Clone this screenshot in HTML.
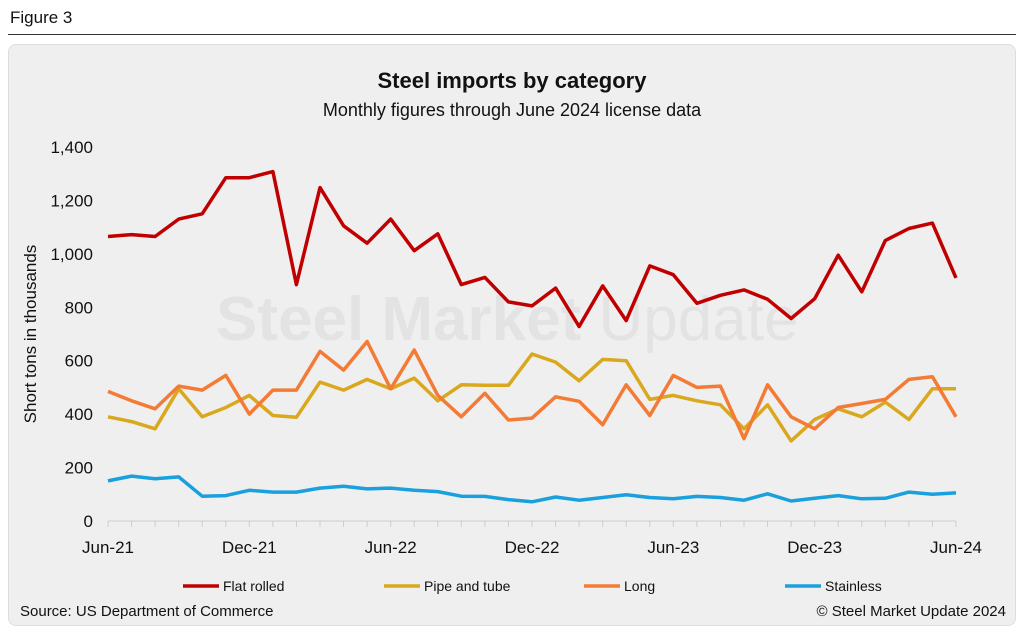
<!DOCTYPE html>
<html><head><meta charset="utf-8"><style>
body{margin:0;width:1024px;height:633px;background:#fff;font-family:"Liberation Sans",Arial,sans-serif;overflow:hidden;position:relative}
</style></head><body>
<div style="position:absolute;left:10px;top:8px;font-size:17px;color:#111">Figure 3</div>
<div style="position:absolute;left:8px;top:34px;width:1008px;height:1px;background:#333"></div>
<div style="position:absolute;left:8px;top:44px;width:1006px;height:580px;background:#efefef;border:1px solid #ddd;border-radius:8px"></div>
<svg id="c" width="1024" height="633" style="position:absolute;left:0;top:0" font-family="Liberation Sans, Arial, sans-serif">
<text x="512" y="88" text-anchor="middle" font-size="22" font-weight="bold" fill="#111">Steel imports by category</text>
<text x="512" y="116" text-anchor="middle" font-size="18" fill="#111">Monthly figures through June 2024 license data</text>
<text x="216" y="340" font-size="62" font-weight="bold" fill="#e3e3e3">Steel Market <tspan font-weight="normal">Update</tspan></text>
<text transform="translate(36,334) rotate(-90)" text-anchor="middle" font-size="17" fill="#111">Short tons in thousands</text>
<g id="g"></g>
<text x="20" y="616" font-size="15" fill="#111">Source: US Department of Commerce</text>
<text x="1006" y="616" text-anchor="end" font-size="15" fill="#111">© Steel Market Update 2024</text>
</svg>
<script>
const flatRolled=[1065,1072,1065,1130,1150,1285,1285,1308,885,1248,1105,1040,1130,1012,1075,885,912,820,805,872,728,880,750,955,922,815,845,865,830,758,832,995,858,1050,1095,1115,910];
const pipeTube=[390,372,345,495,390,425,470,395,388,520,490,530,495,535,450,510,508,508,625,595,525,605,600,455,470,450,435,345,435,300,380,420,390,445,380,495,495];
const longP=[485,450,420,505,490,545,400,490,490,635,565,672,495,640,470,390,478,378,385,465,448,360,510,395,545,500,505,308,510,390,345,425,440,455,530,540,390];
const stainless=[150,168,158,165,93,95,115,108,108,123,130,120,123,115,110,93,92,80,72,90,78,88,98,88,83,92,88,78,102,75,85,95,83,85,108,100,105];
const yTicks=[0,200,400,600,800,1000,1200,1400];
const xLabels=["Jun-21","Dec-21","Jun-22","Dec-22","Jun-23","Dec-23","Jun-24"];
const seriesNames=["Flat rolled","Pipe and tube","Long","Stainless"];
const colors=["#c00000","#d9a81e","#f47b35","#1aa0dc"];
const X=i=>108+i*(956-108)/36, Y=v=>521-v*(521-147)/1400;
const g=document.getElementById('g'),NS='http://www.w3.org/2000/svg';
function mk(t,a,txt){const e=document.createElementNS(NS,t);for(const k in a)e.setAttribute(k,a[k]);if(txt!=null)e.textContent=txt;g.appendChild(e);return e;}
yTicks.forEach(v=>{const t=mk('text',{x:93,y:Y(v)+6,'text-anchor':'end','font-size':17,fill:'#111'},v.toLocaleString('en-US'));

});
const ax=mk('line',{x1:108,x2:956,y1:521,y2:521,stroke:'#ccc','stroke-width':1});


for(let i=0;i<=36;i++){const tk=mk('line',{x1:X(i),x2:X(i),y1:521,y2:527,stroke:'#ccc'});

}
xLabels.forEach((l,k)=>{const t=mk('text',{x:X(k*6),y:553,'text-anchor':'middle','font-size':17,fill:'#111'},l);

});
[flatRolled,pipeTube,longP,stainless].forEach((s,k)=>{const d=s.map((v,i)=>(i?'L':'M')+X(i).toFixed(1)+','+Y(v).toFixed(1)).join('');
const p=mk('path',{d,fill:'none',stroke:colors[k],'stroke-width':3.5,'stroke-linejoin':'round'});


const lx=[183,384,584,785][k];
const ll=mk('line',{x1:lx,x2:lx+36,y1:586,y2:586,stroke:colors[k],'stroke-width':3.5});


const lt=mk('text',{x:lx+40,y:591,'font-size':14,fill:'#111'},seriesNames[k]);

});
</script>
</body></html>
